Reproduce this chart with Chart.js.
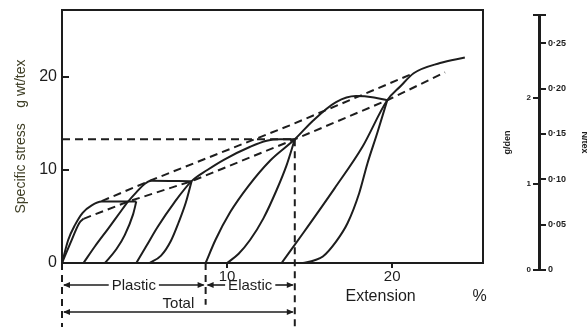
<!DOCTYPE html>
<html>
<head>
<meta charset="utf-8">
<script src="https://cdn.jsdelivr.net/npm/chart.js@4.4.1/dist/chart.umd.min.js"></script>
<style>
  html, body { margin: 0; padding: 0; background: #ffffff; }
  #wrap { position: relative; width: 587px; height: 327px; overflow: hidden; }
  #main { position: absolute; left: 0; top: 0; }
  #side { position: absolute; left: 490px; top: 0; }
</style>
</head>
<body>
<div id="wrap">
  <canvas id="main" width="587" height="327"></canvas>
  <canvas id="side" width="97" height="327"></canvas>
</div>
<script>
// Extension (%) vs specific stress (g wt/tex) for each loading / recovery trace
const primaryLoad = [[0,0],[0.38,2.5],[0.79,4.1],[1.25,5.4],[1.8,6.2],[2.4,6.6],[4.5,6.6]];
const innerLoad   = [[0,0],[0.5,2.1],[1.05,4.3],[1.3,4.75]];
const recovery1   = [[2.6,0],[3.3,1.5],[3.8,3.0],[4.3,5.2],[4.5,6.6]];
const reload1     = [[1.3,0],[2.0,1.8],[2.8,3.7],[3.5,5.4],[4.0,6.6],[4.5,7.6],[5.0,8.5],[5.4,8.85],[7.85,8.8]];
const recovery2   = [[5.3,0],[6.0,0.8],[6.6,2.4],[7.05,4.3],[7.5,6.5],[7.85,8.8]];
const reload2     = [[4.5,0],[5.1,1.8],[5.8,3.9],[6.8,6.5],[7.85,8.8],[8.8,10.0],[9.8,11.1],[11.4,12.5],[12.4,13.15],[13.2,13.3],[14.1,13.3]];
const recovery3   = [[10.0,0],[10.7,1.0],[11.4,2.5],[12.2,4.8],[13.0,7.85],[13.6,10.5],[14.1,13.3]];
const reload3     = [[8.7,0],[9.3,2.5],[10.2,5.5],[11.3,8.3],[12.6,11.0],[14.1,13.3],[15.2,15.3],[16.6,17.3],[17.8,17.95],[18.9,17.8],[19.7,17.5]];
const recovery4   = [[14.6,0],[15.3,0.3],[15.8,0.7],[16.6,2.3],[17.3,4.3],[18.0,7.5],[18.5,10.7],[19.1,14.0],[19.7,17.5]];
const reload4     = [[13.3,0],[14.6,3.2],[16.5,8.0],[18.2,12.5],[19.7,17.5],[20.5,19.0],[21.3,20.4],[22.9,21.5],[24.4,22.1]];

// Dashed construction lines
const upperEnvelope = [[2.4,6.65],[5.4,8.9],[13.8,14.8],[21.3,20.4]];
const lowerEnvelope = [[1.3,4.75],[4.0,6.6],[7.85,8.8],[14.1,13.3],[19.7,17.5],[23.2,20.5]];
const stressLevel   = [[0,13.3],[14.1,13.3]];
const originDrop    = [[0,0],[0,-6.9]];
const plasticDrop   = [[8.7,0],[8.7,-4.5]];
const totalDrop     = [[14.1,13.3],[14.1,-6.9]];

// Extension split points (%): start, end of plastic part, end of total
const extensionSplit = [0, 8.7, 14.1];

// Axis ticks
const xTicks = [10, 20];
const yTicks = [0, 10, 20];
const gdenTicks = [0, 1, 2];
const ntexTicks = [0, 0.05, 0.10, 0.15, 0.20, 0.25];

const ink = '#1d1d1d';
const family = '"Liberation Sans", Arial, sans-serif';

const toXY = arr => arr.map(([x, y]) => ({x, y}));
const solid = data => ({
  data: toXY(data), showLine: true, borderColor: ink, borderWidth: 2,
  pointRadius: 0, fill: false, cubicInterpolationMode: 'monotone'
});
const dashed = (data, dash) => ({
  data: toXY(data), showLine: true, borderColor: ink, borderWidth: 2,
  pointRadius: 0, fill: false, tension: 0, borderDash: dash || [8, 5], clip: false
});

// fixed axis sizes, no extra label padding at the ends
const fixWidth = w => s => { s.width = w; s.paddingTop = 0; s.paddingBottom = 0; };
const fixHeight = h => s => { s.height = h; s.paddingLeft = 0; s.paddingRight = 0; };

const bracketPlugin = {
  id: 'brackets',
  afterDraw(chart) {
    const {ctx, chartArea, scales: {x}} = chart;
    const px = v => x.getPixelForValue(v);
    const [x0, xp, xt] = extensionSplit.map(px);
    const row1 = chartArea.bottom + 22;
    const row2 = chartArea.bottom + 49;
    ctx.save();
    ctx.strokeStyle = ink;
    ctx.fillStyle = ink;
    ctx.lineWidth = 1.6;
    ctx.font = '15px ' + family;
    ctx.textAlign = 'center';
    ctx.textBaseline = 'middle';

    const head = (tx, y, dir) => {
      ctx.beginPath();
      ctx.moveTo(tx, y);
      ctx.lineTo(tx - dir * 7, y - 3);
      ctx.lineTo(tx - dir * 7, y + 3);
      ctx.closePath();
      ctx.fill();
    };
    const seg = (a, b, y) => {
      ctx.beginPath(); ctx.moveTo(a, y); ctx.lineTo(b, y); ctx.stroke();
    };
    const inlineSpan = (a, b, label, y) => {
      const cx = (a + b) / 2;
      const w = ctx.measureText(label).width;
      ctx.fillText(label, cx, y + 1);
      seg(a + 2, cx - w / 2 - 3, y);
      seg(cx + w / 2 + 3, b - 2, y);
      head(a + 1, y, -1);
      head(b - 1, y, 1);
    };
    inlineSpan(x0, xp, 'Plastic', row1);
    inlineSpan(xp, xt, 'Elastic', row1);

    // Total: label sits on the arrow line
    seg(x0 + 2, xt - 2, row2);
    head(x0 + 1, row2, -1);
    head(xt - 1, row2, 1);
    ctx.fillText('Total', (x0 + xt) / 2, row2 - 8);

    // axis caption
    ctx.font = '16px ' + family;
    ctx.fillText('Extension', px(19.3), chartArea.bottom + 34);
    ctx.fillText('%', px(25.3), chartArea.bottom + 34);
    ctx.restore();
  }
};

new Chart(document.getElementById('main'), {
  type: 'scatter',
  data: {
    datasets: [
      solid(primaryLoad), solid(innerLoad), solid(recovery1), solid(reload1),
      solid(recovery2), solid(reload2), solid(recovery3), solid(reload3),
      solid(recovery4), solid(reload4),
      dashed(upperEnvelope), dashed(lowerEnvelope), dashed(stressLevel),
      dashed(originDrop, [7, 5]), dashed(plasticDrop, [7, 5]), dashed(totalDrop, [7, 5])
    ]
  },
  options: {
    responsive: false,
    animation: false,
    events: [],
    layout: { padding: 0 },
    plugins: { legend: { display: false }, tooltip: { enabled: false } },
    scales: {
      x: {
        type: 'linear', position: 'bottom', min: 0, max: 25.5,
        afterBuildTicks: s => { s.ticks = xTicks.map(v => ({value: v})); },
        afterFit: fixHeight(64),
        grid: { drawOnChartArea: false, tickLength: 5, color: ink, lineWidth: 2 },
        border: { color: ink, width: 2 },
        ticks: { color: ink, font: { family, size: 15 }, padding: 0, maxRotation: 0 }
      },
      y: {
        type: 'linear', position: 'left', min: 0, max: 27.2,
        afterBuildTicks: s => { s.ticks = yTicks.map(v => ({value: v})); },
        afterFit: fixWidth(62),
        grid: { drawOnChartArea: false, tickLength: -7, color: ink, lineWidth: 2 },
        border: { color: ink, width: 2 },
        ticks: { color: ink, font: { family, size: 16 }, padding: 12 },
        title: {
          display: true, text: 'Specific stress    g wt/tex', color: '#3f3f26',
          font: { family, size: 14 }, padding: 13
        }
      },
      xTop: {
        type: 'linear', position: 'top', min: 0, max: 1,
        afterFit: fixHeight(10),
        grid: { drawOnChartArea: false, drawTicks: false },
        border: { color: ink, width: 2 },
        ticks: { display: false }
      },
      yRight: {
        type: 'linear', position: 'right', min: 0, max: 1,
        afterFit: fixWidth(104),
        grid: { drawOnChartArea: false, drawTicks: false },
        border: { color: ink, width: 2 },
        ticks: { display: false }
      }
    }
  },
  plugins: [bracketPlugin]
});

// Conversion scale: g/den on the left, N/tex on the right
const gdenMax = 2.96;
const ntexMax = 0.281;
const dotted = v => v === 0 ? '0' : v.toFixed(2).replace('.', '\u00B7');

new Chart(document.getElementById('side'), {
  type: 'scatter',
  data: { datasets: [] },
  options: {
    responsive: false,
    animation: false,
    events: [],
    layout: { padding: { top: 15, bottom: 57, left: 0, right: 0 } },
    plugins: { legend: { display: false }, tooltip: { enabled: false } },
    scales: {
      x: { type: 'linear', display: false, min: 0, max: 1 },
      gden: {
        type: 'linear', position: 'left', min: 0, max: gdenMax,
        afterBuildTicks: s => { s.ticks = gdenTicks.concat([gdenMax]).map(v => ({value: v})); },
        afterFit: fixWidth(49),
        grid: { drawOnChartArea: false, tickLength: 6, color: ink, lineWidth: 2 },
        border: { color: ink, width: 3 },
        ticks: {
          color: ink, font: { family, size: 8, weight: 'bold' }, padding: 2,
          callback: v => v === gdenMax ? '' : String(v)
        },
        title: { display: true, text: 'g/den', color: ink, font: { family, size: 9, weight: 'bold' }, padding: 12 }
      },
      ntex: {
        type: 'linear', position: 'right', min: 0, max: ntexMax,
        afterBuildTicks: s => { s.ticks = ntexTicks.concat([ntexMax]).map(v => ({value: v})); },
        afterFit: fixWidth(47),
        grid: { drawOnChartArea: false, tickLength: 6, color: ink, lineWidth: 2 },
        border: { display: false },
        ticks: {
          color: ink, font: { family, size: 9, weight: 'bold' }, padding: 2,
          callback: v => v === ntexMax ? '' : dotted(v)
        },
        title: { display: true, text: 'N/tex', color: ink, font: { family, size: 9, weight: 'bold' }, padding: -3 }
      }
    }
  }
});
</script>
</body>
</html>
